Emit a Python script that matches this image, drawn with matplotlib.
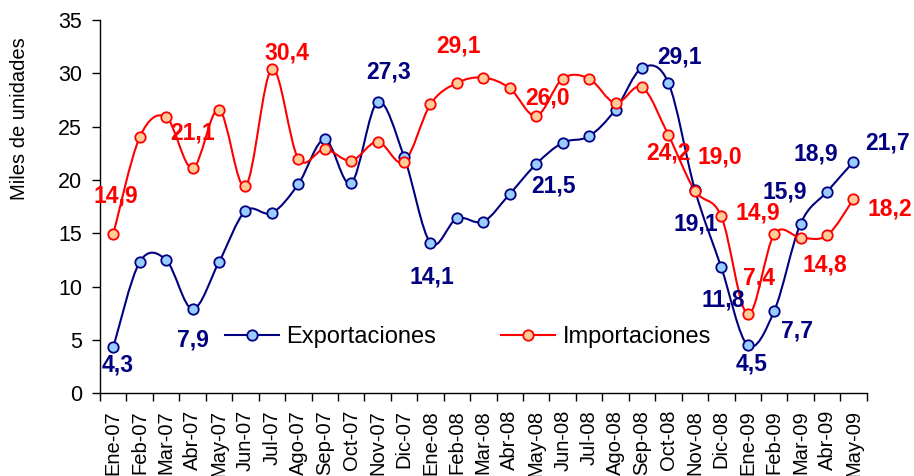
import numpy as np
import matplotlib
matplotlib.use("Agg")
import matplotlib.pyplot as plt
from matplotlib.path import Path
from matplotlib.patches import PathPatch
from matplotlib.lines import Line2D

plt.rcParams['font.family'] = ['Liberation Sans', 'DejaVu Sans']

months = ["Ene-07", "Feb-07", "Mar-07", "Abr-07", "May-07", "Jun-07", "Jul-07",
          "Ago-07", "Sep-07", "Oct-07", "Nov-07", "Dic-07",
          "Ene-08", "Feb-08", "Mar-08", "Abr-08", "May-08", "Jun-08", "Jul-08",
          "Ago-08", "Sep-08", "Oct-08", "Nov-08", "Dic-08",
          "Ene-09", "Feb-09", "Mar-09", "Abr-09", "May-09"]

exportaciones = [4.3, 12.3, 12.5, 7.9, 12.3, 17.1, 16.9, 19.6, 23.8, 19.7, 27.3, 22.2,
                 14.1, 16.4, 16.1, 18.7, 21.5, 23.5, 24.1, 26.6, 30.5, 29.1, 19.1, 11.8,
                 4.5, 7.7, 15.9, 18.9, 21.7]

importaciones = [14.9, 24.0, 25.9, 21.1, 26.6, 19.4, 30.4, 22.0, 22.9, 21.8, 23.6, 21.7,
                 27.1, 29.1, 29.6, 28.6, 26.0, 29.5, 29.5, 27.2, 28.7, 24.2, 19.0, 16.6,
                 7.4, 14.9, 14.6, 14.8, 18.2]

yticks = [0, 5, 10, 15, 20, 25, 30, 35]

# labelled points: index -> label offset in pixels (dx, dy)
exp_label_offsets = {0: (4, -18), 3: (0, -31), 10: (11, 30), 12: (1, -34), 16: (17, -22),
                     21: (11, 26), 22: (1, -34), 23: (2, -33), 24: (4, -19), 25: (23, -20),
                     26: (-16, 32), 27: (-11, 38), 28: (34, 19)}
imp_label_offsets = {0: (3, 38), 3: (0, 35), 6: (15, 16), 13: (2, 37), 16: (11, 18),
                     21: (0, -18), 22: (25, 34), 24: (11, 36), 25: (-16, 21), 27: (-2, -30),
                     28: (36, -10)}

NAVY = "#000080"
LIGHTBLUE = "#99CCFF"
RED = "#FF0000"
PEACH = "#FFCC99"


def smooth_path(x, y):
    pts = np.column_stack([x, y]).astype(float)
    n = len(pts)
    verts = [pts[0]]
    codes = [Path.MOVETO]
    for i in range(n - 1):
        p0 = pts[i - 1] if i > 0 else pts[i]
        p1 = pts[i]
        p2 = pts[i + 1]
        p3 = pts[i + 2] if i + 2 < n else pts[i + 1]
        c1 = p1 + (p2 - p0) / 6.0
        c2 = p2 - (p3 - p1) / 6.0
        verts += [c1, c2, p2]
        codes += [Path.CURVE4] * 3
    return Path(verts, codes)


fig = plt.figure(figsize=(9.14, 4.76), dpi=100)
ax = fig.add_axes([100 / 914, 82.7 / 476, 766.7 / 914, 373.3 / 476])

x = np.arange(len(months))

for vals, lc, fc, offs in [(exportaciones, NAVY, LIGHTBLUE, exp_label_offsets),
                           (importaciones, RED, PEACH, imp_label_offsets)]:
    ax.add_patch(PathPatch(smooth_path(x, vals), fill=False, edgecolor=lc, lw=1.5, zorder=3))
    ax.plot(x, vals, linestyle='none', marker='o', ms=7.5, mfc=fc, mec=lc, mew=1.3, zorder=4)
    for i, (dx, dy) in offs.items():
        ax.annotate(f"{vals[i]:.1f}".replace(".", ","), (x[i], vals[i]),
                    xytext=(dx, dy), textcoords='offset pixels',
                    ha='center', va='center', fontsize=16.5, fontweight='bold',
                    color=lc, zorder=5)

ax.set_xlim(-0.5, len(months) - 0.5)
ax.set_ylim(0, 35)
ax.set_yticks(yticks)
ax.set_yticklabels([str(v) for v in yticks])
ax.tick_params(axis='y', length=6, width=1, pad=7, labelsize=15.5, direction='out')

ax.set_xticks(np.arange(len(months) + 1) - 0.5)
ax.set_xticklabels([])
ax.tick_params(axis='x', which='major', length=5.5, width=1, direction='out')
ax.set_xticks(x, minor=True)
ax.set_xticklabels(months, minor=True, rotation=90, fontsize=14.5)
ax.tick_params(axis='x', which='minor', length=0, pad=12)

for s in ['top', 'right']:
    ax.spines[s].set_visible(False)
for s in ['left', 'bottom']:
    ax.spines[s].set_linewidth(1.0)

fig.text(20 / 914, 1 - 119 / 476, "Miles de unidades", rotation=90,
         ha='center', va='center', fontsize=14.5)

handles = [Line2D([], [], color=NAVY, lw=1.5, marker='o', ms=7.5, mfc=LIGHTBLUE, mec=NAVY, mew=1.3),
           Line2D([], [], color=RED, lw=1.5, marker='o', ms=7.5, mfc=PEACH, mec=RED, mew=1.3)]
ax.legend(handles, ["Exportaciones", "Importaciones"], ncol=2, frameon=False,
          loc='center left', bbox_to_anchor=(0.163, 0.15), borderpad=0, borderaxespad=0,
          handlelength=2.3, handletextpad=0.3, columnspacing=2.75, fontsize=17)

fig.savefig("out.png", dpi=100)
